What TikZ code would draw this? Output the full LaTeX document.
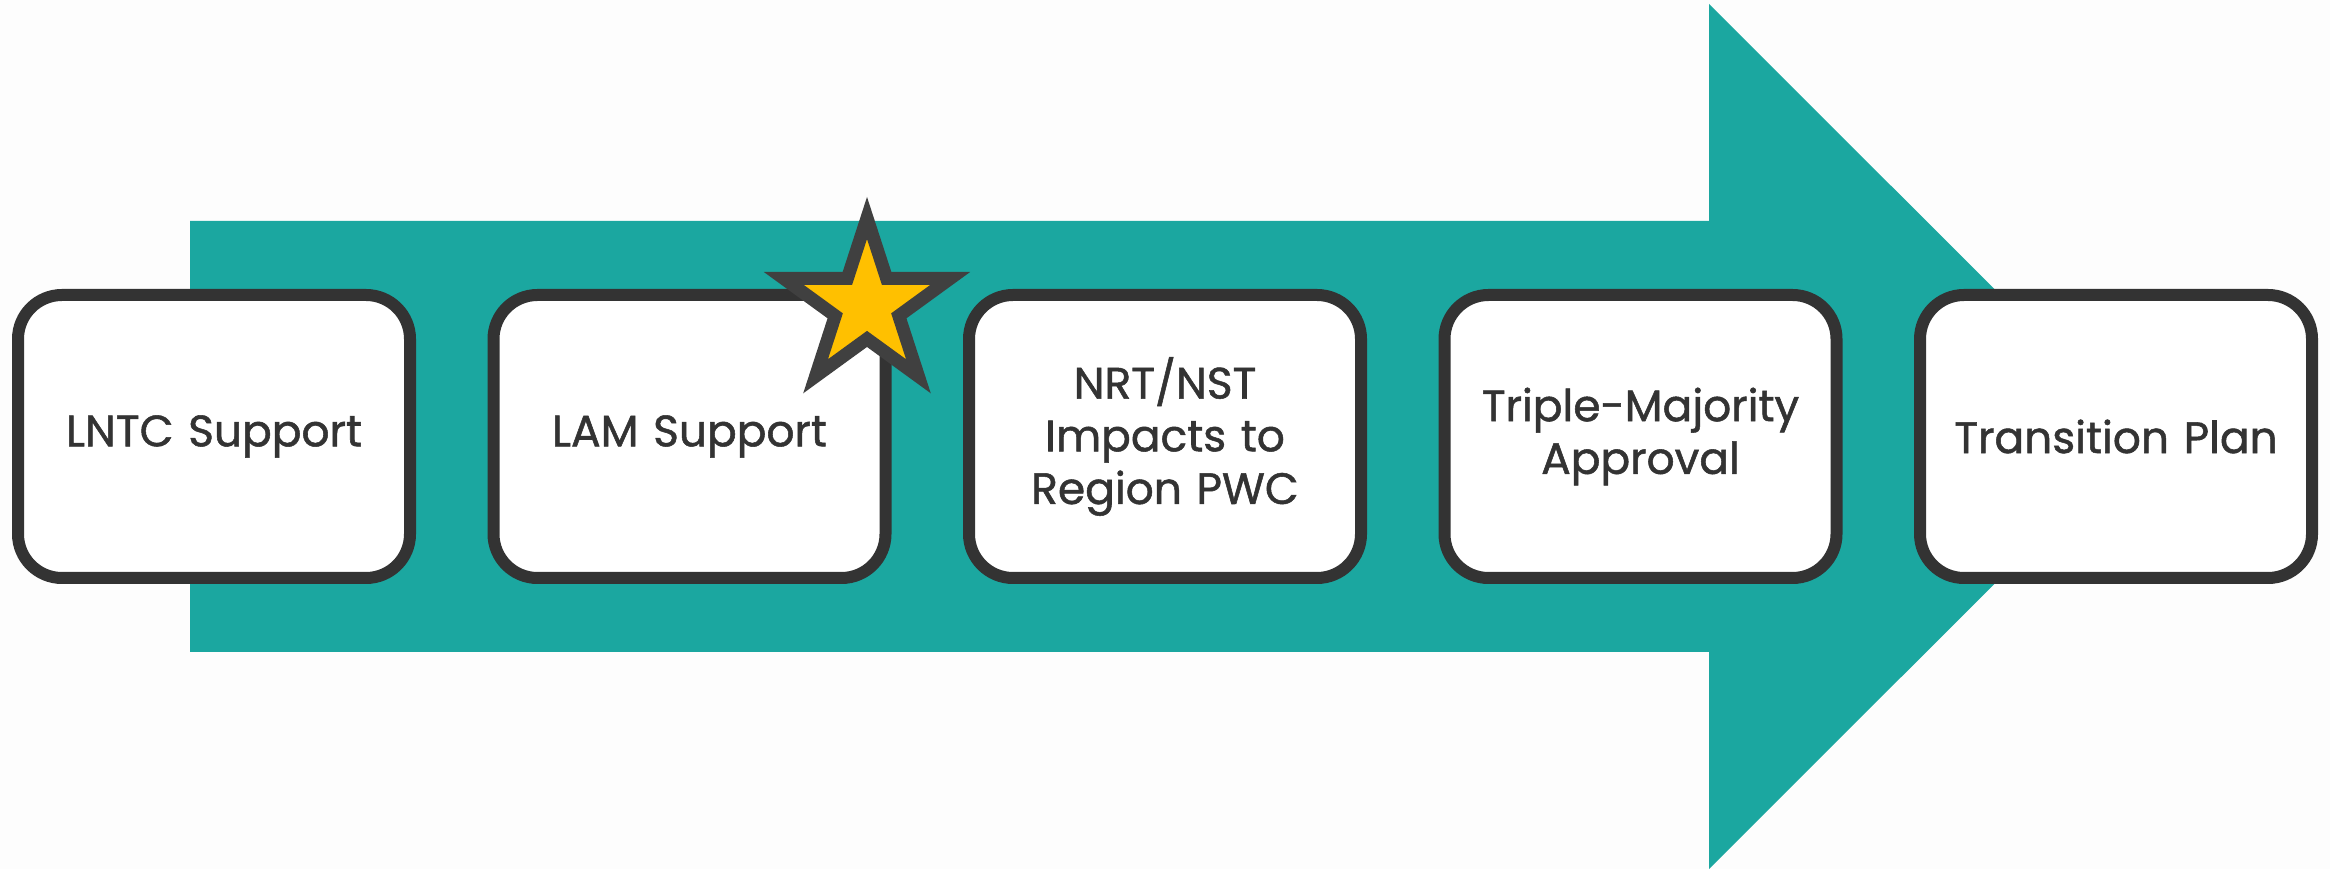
\documentclass[tikz,border=0pt]{standalone}
\usepackage{fontspec}
\setmainfont{Poppins}
\newfontfamily\boxfont{Poppins}[FakeBold=1.2]
\usetikzlibrary{shapes.geometric}
\definecolor{teal}{RGB}{27,167,160}
\definecolor{paper}{RGB}{253,253,253}
\definecolor{boxline}{RGB}{51,51,51}
\definecolor{starline}{RGB}{64,64,64}
\definecolor{gold}{RGB}{255,192,0}
\tikzset{
    stepbox/.style={draw=boxline, line width=0.12cm, fill=white, rounded corners=0.44cm,
        minimum width=3.92cm, minimum height=2.83cm, text width=3.6cm, inner sep=0.1cm,
        align=center, text=boxline, font=\boxfont\fontsize{12.5}{15}\selectfont},
    goldstar/.style={star, star points=5, star point ratio=2.618, draw=starline,
        line width=0.13cm, fill=gold, minimum size=1.75cm, inner sep=0pt}
}
\begin{document}
\begin{tikzpicture}
    \useasboundingbox (0, 0) rectangle (23.3, 8.69);
    \fill[paper] (0, 0) rectangle (23.3, 8.69);
    \fill[teal] (1.90, 2.17)--(17.09, 2.17)--(17.09, 0)--(21.42, 4.325)--(17.09, 8.65)--(17.09, 6.48)--(1.90, 6.48)--cycle;
    \node[stepbox] (lntc) at (2.14, 4.325) {LNTC Support};
    \node[stepbox] (lam) at (6.895, 4.325) {LAM Support};
    \node[stepbox] (nrt) at (11.65, 4.325) {NRT/NST\\Impacts to\\Region PWC};
    \node[stepbox] (triple) at (16.405, 4.325) {Triple-Majority\\Approval};
    \node[stepbox] (transition) at (21.16, 4.325) {Transition Plan};
    \node[goldstar] (star) at (8.67, 5.635) {};
\end{tikzpicture}
\end{document}
